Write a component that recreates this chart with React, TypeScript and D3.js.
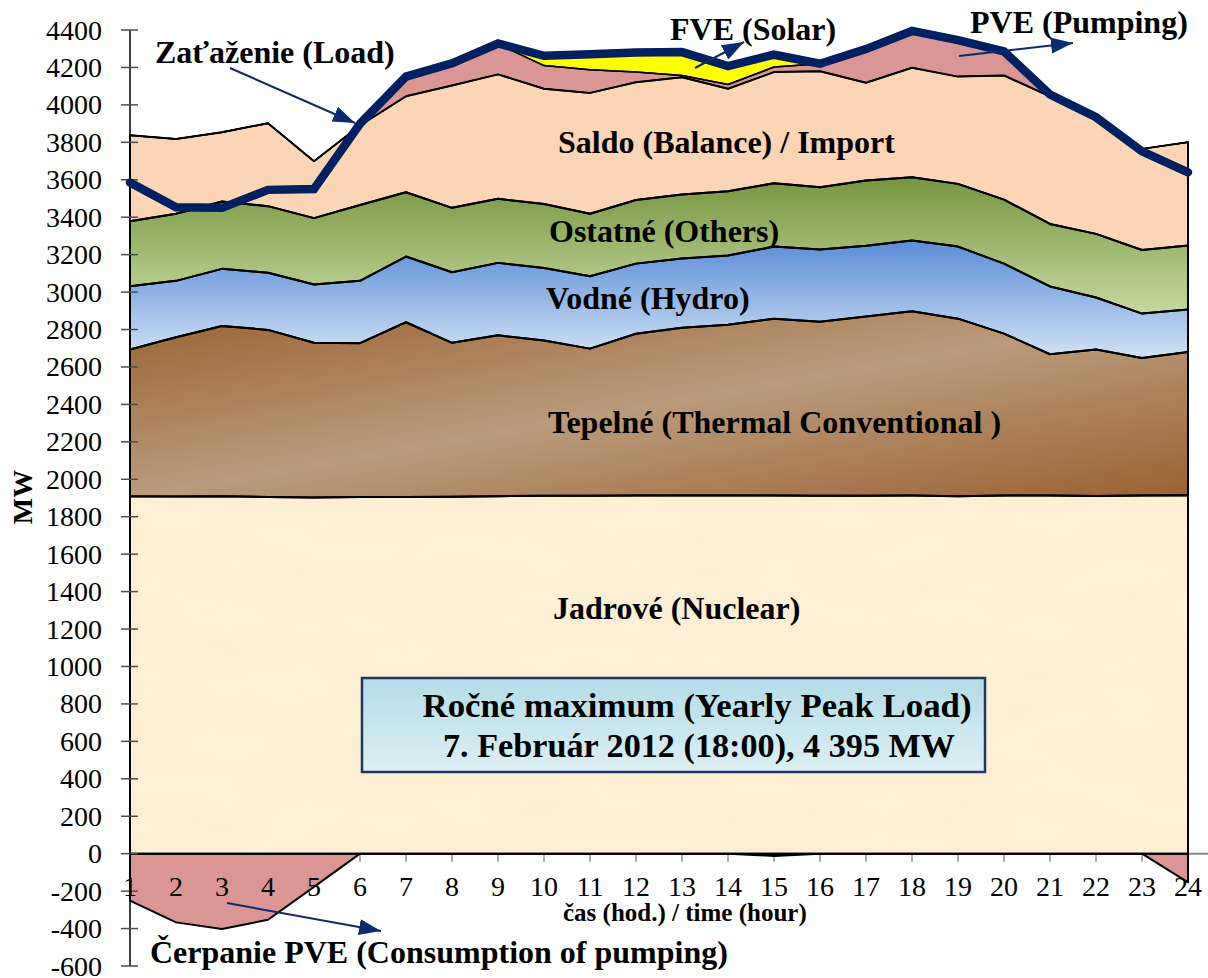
import * as d3 from 'd3';
import { useMemo } from 'react';

const hours = [1, 2, 3, 4, 5, 6, 7, 8, 9, 10, 11, 12, 13, 14, 15, 16, 17, 18, 19, 20, 21, 22, 23, 24];

// MW per hour
const nuclear = [1910, 1908, 1910, 1905, 1903, 1905, 1906, 1907, 1910, 1912, 1912, 1914, 1914, 1914, 1913, 1912, 1912, 1913, 1910, 1913, 1913, 1911, 1914, 1915];
const thermal = [783, 851, 909, 893, 826, 822, 933, 822, 859, 829, 786, 863, 896, 911, 945, 930, 957, 985, 948, 865, 755, 782, 734, 765];
const hydro = [338, 301, 305, 305, 311, 333, 351, 377, 387, 388, 387, 375, 369, 370, 385, 385, 379, 377, 385, 374, 362, 278, 237, 227];
const others = [347, 358, 360, 356, 355, 405, 343, 344, 342, 342, 333, 340, 342, 344, 338, 333, 348, 339, 335, 342, 334, 340, 340, 342];
const saldo = [460, 400, 370, 443, 304, 425, 513, 653, 665, 615, 646, 629, 627, 547, 594, 620, 522, 584, 573, 663, 681, 619, 540, 552];
const pvePumping = [0, 0, 0, 0, 0, 0, 105, 117, 162, 124, 124, 54, 9, 23, 27, 40, 182, 197, 193, 125, 15, 0, 0, 0];
const fveSolar = [0, 0, 0, 0, 0, 0, 0, 0, 0, 50, 85, 103, 121, 96, 66, 0, 0, 0, 0, 0, 0, 0, 0, 0];
const pveConsumption = [-251, -367, -402, -353, -177, 0, 0, 0, 0, 0, 0, 0, 0, 0, -12, 0, 0, 0, 0, 0, 0, 0, 0, -153];
const load = [3585, 3453, 3450, 3546, 3551, 3899, 4151, 4222, 4328, 4262, 4270, 4280, 4282, 4207, 4268, 4220, 4298, 4395, 4346, 4286, 4055, 3934, 3752, 3640];

const yTicks = [-600, -400, -200, 0, 200, 400, 600, 800, 1000, 1200, 1400, 1600, 1800, 2000, 2200, 2400, 2600, 2800, 3000, 3200, 3400, 3600, 3800, 4000, 4200, 4400];

const layerKeys = ['nuclear', 'thermal', 'hydro', 'others', 'saldo', 'pve', 'fve'];
const layerFills: Record<string, string> = {
  nuclear: '#FDF0D6',
  thermal: 'url(#gThermal)',
  hydro: 'url(#gHydro)',
  others: 'url(#gOthers)',
  saldo: '#FBD5B5',
  pve: '#D99694',
  fve: '#FFFF00',
};

const WIDTH = 1208;
const HEIGHT = 978;
const SERIF = '"Liberation Serif", "Times New Roman", serif';
const NAVY = '#002060';
const ARROW = '#0D2A6E';

export default function App() {
  const x = d3.scaleLinear().domain([1, 24]).range([130, 1188]);
  const y = d3.scaleLinear().domain([-600, 4400]).range([966, 30]);

  const series = useMemo(() => {
    const rows = hours.map((h, i) => ({
      hour: h,
      nuclear: nuclear[i],
      thermal: thermal[i],
      hydro: hydro[i],
      others: others[i],
      saldo: saldo[i],
      pve: pvePumping[i],
      fve: fveSolar[i],
    }));
    return d3.stack<any>().keys(layerKeys)(rows);
  }, []);

  const area = d3
    .area<d3.SeriesPoint<any>>()
    .x((d) => x(d.data.hour))
    .y0((d) => y(d[0]))
    .y1((d) => y(d[1]));

  const pumpArea = d3
    .area<number>()
    .x((_, i) => x(hours[i]))
    .y0(() => y(0))
    .y1((d) => y(d));

  const loadLine = d3
    .line<number>()
    .x((_, i) => x(hours[i]))
    .y((d) => y(d));

  const bold = { fontFamily: SERIF, fontWeight: 700, fontSize: 32, fill: '#000' } as const;

  return (
    <div style={{ position: 'absolute', left: 0, top: 0 }}>
      <svg width={WIDTH} height={HEIGHT} viewBox={`0 0 ${WIDTH} ${HEIGHT}`} style={{ display: 'block', background: '#fff' }}>
        <defs>
          <linearGradient id="gThermal" x1="0" y1="0" x2="1" y2="1">
            <stop offset="0" stopColor="#9A6233" />
            <stop offset="0.5" stopColor="#BA9A7B" />
            <stop offset="1" stopColor="#9A6233" />
          </linearGradient>
          <linearGradient id="gHydro" x1="0" y1="0" x2="0" y2="1">
            <stop offset="0" stopColor="#5A8DD6" />
            <stop offset="1" stopColor="#D3E2F5" />
          </linearGradient>
          <linearGradient id="gOthers" x1="0" y1="0" x2="0" y2="1">
            <stop offset="0" stopColor="#76953F" />
            <stop offset="1" stopColor="#C5D9A0" />
          </linearGradient>
          <linearGradient id="gBox" x1="0" y1="0" x2="0" y2="1">
            <stop offset="0" stopColor="#B4DCE7" />
            <stop offset="1" stopColor="#DDEFF4" />
          </linearGradient>
          <filter id="parchment" x="0" y="0" width="1" height="1">
            <feTurbulence type="fractalNoise" baseFrequency="0.012 0.03" numOctaves="3" seed="7" result="noise" />
            <feColorMatrix
              in="noise"
              type="matrix"
              values="0 0 0 0 0.95  0 0 0 0 0.84  0 0 0 0 0.62  0.8 0 0 0 -0.26"
              result="spots"
            />
            <feComposite in="spots" in2="SourceGraphic" operator="atop" />
          </filter>
          <marker id="arrowHead" markerUnits="userSpaceOnUse" markerWidth="24" markerHeight="18" refX="22" refY="8" orient="auto">
            <path d="M0,0 L22,8 L0,16 Z" fill={ARROW} />
          </marker>
        </defs>

        {/* zero line of the x axis */}
        <line x1={x(1)} x2={WIDTH} y1={y(0)} y2={y(0)} stroke="#8C8C8C" strokeWidth={2} />
        {hours.slice(1).map((h) => (
          <line key={h} x1={x(h)} x2={x(h)} y1={y(0)} y2={y(0) + 8} stroke="#8C8C8C" strokeWidth={1.5} />
        ))}

        {/* stacked generation areas */}
        {series.map((s) => (
          <path
            key={s.key}
            d={area(s) ?? ''}
            fill={layerFills[s.key]}
            filter={s.key === 'nuclear' ? 'url(#parchment)' : undefined}
            stroke="none"
          />
        ))}
        <path d={pumpArea(pveConsumption) ?? ''} fill="#D99694" stroke="#000" strokeWidth={2} strokeLinejoin="round" />
        {series.map((s) => (
          <path
            key={`o-${s.key}`}
            d={area(s) ?? ''}
            fill="none"
            stroke="#000"
            strokeWidth={s.key === 'pve' || s.key === 'fve' ? 1.5 : 2}
            strokeLinejoin="round"
          />
        ))}

        {/* y axis */}
        <line x1={x(1)} x2={x(1)} y1={y(4400)} y2={y(-600)} stroke="#000" strokeWidth={1.5} />
        {yTicks.map((t) => (
          <g key={t}>
            <line x1={x(1) - 9} x2={x(1) + 8} y1={y(t)} y2={y(t)} stroke="#4D4D4D" strokeWidth={1.5} />
            <text
              x={102}
              y={y(t)}
              textAnchor="end"
              dominantBaseline="central"
              style={{ fontFamily: SERIF, fontSize: 28, fill: '#000' }}
            >
              {t}
            </text>
          </g>
        ))}

        {/* hour labels */}
        {hours.map((h) => (
          <text key={h} x={x(h)} y={896} textAnchor="middle" style={{ fontFamily: SERIF, fontSize: 28, fill: '#000' }}>
            {h}
          </text>
        ))}

        {/* load */}
        <path d={loadLine(load) ?? ''} fill="none" stroke={NAVY} strokeWidth={8.5} strokeLinejoin="miter" strokeLinecap="round" />

        {/* series labels */}
        <text x={558} y={153} style={bold}>Saldo (Balance) / Import</text>
        <text x={549} y={242} style={bold}>Ostatné (Others)</text>
        <text x={546} y={309} style={bold}>Vodné (Hydro)</text>
        <text x={548} y={433} style={bold}>Tepelné (Thermal Conventional )</text>
        <text x={553} y={619} style={bold}>Jadrové (Nuclear)</text>

        <text x={155} y={63} style={bold}>Zaťaženie (Load)</text>
        <line x1={230} y1={68} x2={355} y2={123} stroke={ARROW} strokeWidth={2} markerEnd="url(#arrowHead)" />
        <text x={670} y={40} style={bold}>FVE (Solar)</text>
        <line x1={695} y1={68} x2={744} y2={42} stroke={ARROW} strokeWidth={2} markerEnd="url(#arrowHead)" />
        <text x={970} y={33} style={bold}>PVE (Pumping)</text>
        <line x1={959} y1={56} x2={1073} y2={43} stroke={ARROW} strokeWidth={2} markerEnd="url(#arrowHead)" />
        <text x={150} y={963} style={bold}>Čerpanie PVE (Consumption of pumping)</text>
        <line x1={227} y1={903} x2={381} y2={931} stroke={ARROW} strokeWidth={2} markerEnd="url(#arrowHead)" />

        {/* axis titles */}
        <text x={563} y={921} style={{ ...bold, fontSize: 25 }}>čas (hod.) / time (hour)</text>
        <text
          transform="translate(32,497) rotate(-90)"
          textAnchor="middle"
          style={{ ...bold, fontSize: 28 }}
        >
          MW
        </text>

        {/* peak box */}
        <rect x={362} y={678} width={623} height={94} fill="url(#gBox)" stroke="#1F3864" strokeWidth={2.5} />
        <text x={697} y={717} textAnchor="middle" textLength={549} lengthAdjust="spacingAndGlyphs" style={{ ...bold, fontSize: 34 }}>
          Ročné maximum (Yearly Peak Load)
        </text>
        <text x={699} y={757} textAnchor="middle" textLength={512} lengthAdjust="spacingAndGlyphs" style={{ ...bold, fontSize: 34 }}>
          7. Február 2012 (18:00), 4 395 MW
        </text>
      </svg>
    </div>
  );
}
